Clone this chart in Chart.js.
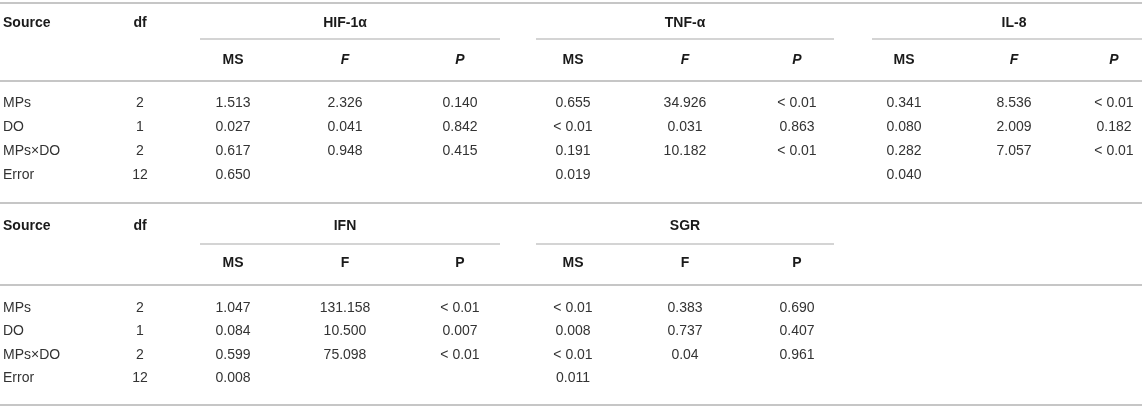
<!DOCTYPE html>
<html>
<head>
<meta charset="utf-8">
<script src="https://cdn.jsdelivr.net/npm/chart.js@4"></script>
<style>
  html, body { margin: 0; padding: 0; background: #fff; }
  #wrap { width: 1142px; height: 412px; position: relative; }
</style>
</head>
<body>
<div id="wrap"><canvas id="tabela"></canvas></div>
<script>
// Table values
const sources = ['MPs', 'DO', 'MPs×DO', 'Error'];
const df = ['2', '1', '2', '12'];

const groups1 = ['HIF-1α', 'TNF-α', 'IL-8'];
const hifMS = ['1.513', '0.027', '0.617', '0.650'];
const hifF = ['2.326', '0.041', '0.948', ''];
const hifP = ['0.140', '0.842', '0.415', ''];
const tnfMS = ['0.655', '< 0.01', '0.191', '0.019'];
const tnfF = ['34.926', '0.031', '10.182', ''];
const tnfP = ['< 0.01', '0.863', '< 0.01', ''];
const il8MS = ['0.341', '0.080', '0.282', '0.040'];
const il8F = ['8.536', '2.009', '7.057', ''];
const il8P = ['< 0.01', '0.182', '< 0.01', ''];

const groups2 = ['IFN', 'SGR'];
const ifnMS = ['1.047', '0.084', '0.599', '0.008'];
const ifnF = ['131.158', '10.500', '75.098', ''];
const ifnP = ['< 0.01', '0.007', '< 0.01', ''];
const sgrMS = ['< 0.01', '0.008', '< 0.01', '0.011'];
const sgrF = ['0.383', '0.737', '0.04', ''];
const sgrP = ['0.690', '0.407', '0.961', ''];

const subHeads = ['MS', 'F', 'P'];

// Layout (pixels in the 1142x412 frame)
const W = 1142, H = 412;
const FONT = "'Liberation Sans', Arial, Helvetica, sans-serif";
const LINE = '#c6c6c6';
const sourceX = 3, dfX = 140;
const groupLeft = [200, 536, 872];
const groupRight = [500, 834, 1142];
const colX = [[233, 345, 460], [573, 685, 797], [904, 1014, 1114]];

const table1 = { top: 3, title: 23, part: 39, sub: 60, full: 81, rows: [103, 127, 151, 175], bottom: 203 };
const table2 = { top: 203, title: 226, part: 244, sub: 263, full: 285, rows: [308, 331, 355, 378], bottom: 405 };

const datasets = [];

function hline(x0, x1, y, width) {
    datasets.push({
        type: 'line',
        data: [{ x: x0, y: y }, { x: x1, y: y }],
        borderColor: LINE,
        borderWidth: width,
        pointRadius: 0
    });
}

function text(cells, font, align, color) {
    datasets.push({
        type: 'scatter',
        data: cells,
        pointRadius: 0,
        hoverRadius: 0,
        textFont: font,
        textAlign: align,
        textColor: color
    });
}

function buildTable(t, titles, columns, italicSub) {
    const bold = 'bold 14px ' + FONT;
    const subFont = italicSub ? 'italic bold 14px ' + FONT : bold;
    const body = '14px ' + FONT;

    hline(0, W, t.top, 2);
    hline(0, W, t.full, 2);
    hline(0, W, t.bottom, 2);

    text([{ x: sourceX, y: t.title, t: 'Source' }], bold, 'left', '#1a1a1a');
    text([{ x: dfX, y: t.title, t: 'df' }], bold, 'center', '#1a1a1a');
    text(sources.map((s, i) => ({ x: sourceX, y: t.rows[i], t: s })), body, 'left', '#333');
    text(df.map((s, i) => ({ x: dfX, y: t.rows[i], t: s })), body, 'center', '#333');

    titles.forEach((g, gi) => {
        hline(groupLeft[gi], groupRight[gi], t.part, 1.5);
        text([{ x: colX[gi][1], y: t.title, t: g }], bold, 'center', '#1a1a1a');
        text([{ x: colX[gi][0], y: t.sub, t: subHeads[0] }], bold, 'center', '#1a1a1a');
        text([{ x: colX[gi][1], y: t.sub, t: subHeads[1] },
              { x: colX[gi][2], y: t.sub, t: subHeads[2] }], subFont, 'center', '#1a1a1a');
        columns[gi].forEach((vals, ci) => {
            text(vals.map((v, i) => ({ x: colX[gi][ci], y: t.rows[i], t: v })), body, 'center', '#333');
        });
    });
}

buildTable(table1, groups1, [[hifMS, hifF, hifP], [tnfMS, tnfF, tnfP], [il8MS, il8F, il8P]], true);
buildTable(table2, groups2, [[ifnMS, ifnF, ifnP], [sgrMS, sgrF, sgrP]], false);

// Writes each cell's text at the position the scales give its point
const cellText = {
    id: 'cellText',
    afterDatasetsDraw(chart) {
        const ctx = chart.ctx;
        chart.data.datasets.forEach((ds, i) => {
            if (!ds.textFont) return;
            const meta = chart.getDatasetMeta(i);
            ctx.save();
            ctx.font = ds.textFont;
            ctx.fillStyle = ds.textColor;
            ctx.textAlign = ds.textAlign;
            ctx.textBaseline = 'middle';
            meta.data.forEach((el, j) => {
                ctx.fillText(ds.data[j].t, el.x, el.y);
            });
            ctx.restore();
        });
    }
};

new Chart(document.getElementById('tabela'), {
    type: 'scatter',
    data: { datasets: datasets },
    options: {
        responsive: true,
        maintainAspectRatio: false,
        animation: false,
        events: [],
        layout: { padding: 0 },
        scales: {
            x: { type: 'linear', min: 0, max: W, display: false },
            y: { type: 'linear', min: 0, max: H, reverse: true, display: false }
        },
        plugins: { legend: { display: false }, tooltip: { enabled: false } }
    },
    plugins: [cellText]
});
</script>
</body>
</html>
